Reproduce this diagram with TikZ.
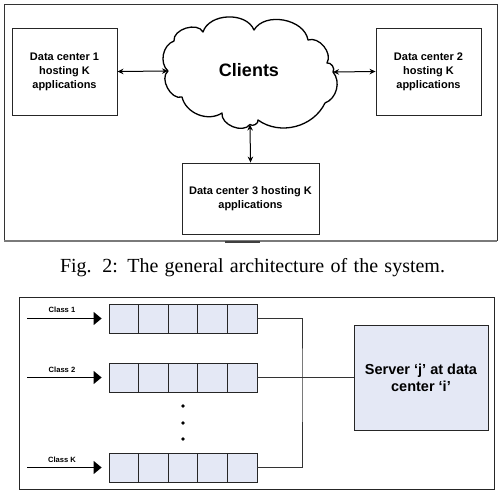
\documentclass[tikz,border=0pt]{standalone}
\usepackage{fontspec}
\setmainfont{Liberation Serif}
\setsansfont{Liberation Sans}
\usetikzlibrary{arrows.meta}

\definecolor{queuefill}{HTML}{E4E8F5}
\definecolor{framegray}{HTML}{7A7A7A}

\tikzset{
  dcbox/.style={draw=black!85, line width=0.9pt, align=center, inner sep=2pt,
    font=\sffamily\bfseries\fontsize{11}{14}\selectfont},
  link/.style={line width=1pt, {Stealth[length=6pt,width=5.5pt]}-{Stealth[length=6pt,width=5.5pt]}},
  cell/.style={draw=black!85, fill=queuefill, line width=0.8pt, minimum width=29.6pt,
    minimum height=29pt, inner sep=0pt},
  feed/.style={line width=0.8pt, -{Triangle[length=8pt,width=13pt]}},
  wire/.style={line width=0.8pt, draw=black!80},
  classlabel/.style={font=\sffamily\bfseries\fontsize{7.6}{9}\selectfont, inner sep=0pt},
  cloudline/.style={line width=1.3pt, line join=round},
}

\begin{document}
\begin{tikzpicture}[x=1pt,y=-1pt]
\useasboundingbox (0,0) rectangle (504,496);
\fill[white] (0,0) rectangle (504,496);

% upper panel frame
\draw[line width=0.9pt, draw=black!80] (4,241) -- (4,4) -- (497,4) -- (497,241);
\draw[line width=1.2pt, draw=framegray] (4,241) -- (497,241);
\draw[line width=2pt, draw=black!75] (225,242) -- (260,242);

% data centers
\node[dcbox, minimum width=105pt, minimum height=87pt] (dc1) at (64.5,71.5)
  {Data center 1\\hosting K\\applications};
\node[dcbox, minimum width=105pt, minimum height=87pt] (dc2) at (428.5,71.5)
  {Data center 2\\hosting K\\applications};
\node[dcbox, minimum width=137pt, minimum height=71pt] (dc3) at (250.5,198.5)
  {Data center 3 hosting K\\applications};

% client cloud
\draw[cloudline]
  (168,71) coordinate (clw)
  to[bend left=60] (174,41)
  to[bend left=80] (203,32)
  to[bend left=70] (254,30)
  to[bend left=70] (308,40)
  to[bend left=70] (327,63)
  to[bend left=70] (333,72) coordinate (cle)
  to[bend left=55] (325,103)
  to[bend left=50] (258,120)
  to[bend left=75] (250,124.5) coordinate (cls)
  to[bend left=75] (222,113)
  to[bend left=55] (182,97)
  to[bend left=80] (168,71);
\node[font=\sffamily\bfseries\fontsize{18}{20}\selectfont] (clients) at (249,70) {Clients};

\draw[link] (dc1.east) -- (clw);
\draw[link] (cle) -- (dc2.west);
\draw[link] (cls) -- (dc3.north);

% caption
\node[font=\fontsize{20}{22}\selectfont, inner sep=0pt] (caption) at (252.5,268)
  {\makebox[385pt][s]{Fig. 2: The general architecture of the system.}};

% lower panel frame
\draw[line width=0.9pt, draw=black!85] (19,297) rectangle (494,489);

% queues
\foreach \q/\y in {1/318.5, 2/377.5, K/467.5} {
  \foreach \c in {1,...,5} {
    \node[cell] (q\q c\c) at ({109+29.6*(\c-0.5)},\y) {};
  }
  \coordinate (in\q) at (27,\y);
  \draw[feed] (in\q) -- ([xshift=-7pt]q\q c1.west);
}
\node[classlabel] (lab1) at (62,309.5) {Class 1};
\node[classlabel] (lab2) at (62,369.5) {Class 2};
\node[classlabel] (labK) at (62,459.5) {Class K};

% ellipsis between queues
\foreach \y [count=\i] in {406,423,439}
  \fill (183,\y) circle (1.8pt) coordinate (dot\i);

% server
\node[draw=black!85, fill=queuefill, line width=0.9pt, minimum width=134pt,
  minimum height=105pt, align=center,
  font=\sffamily\bfseries\fontsize{14.5}{17}\selectfont] (server) at (421,377.5)
  {Server `j' at data\\center `i'};

% queue outputs to the server
\coordinate (bus) at (302,377.5);
\draw[wire] (q1c5.east) -| (bus) |- (qKc5.east);
\draw[wire] (q2c5.east) -- (server.west);

\end{tikzpicture}
\end{document}
